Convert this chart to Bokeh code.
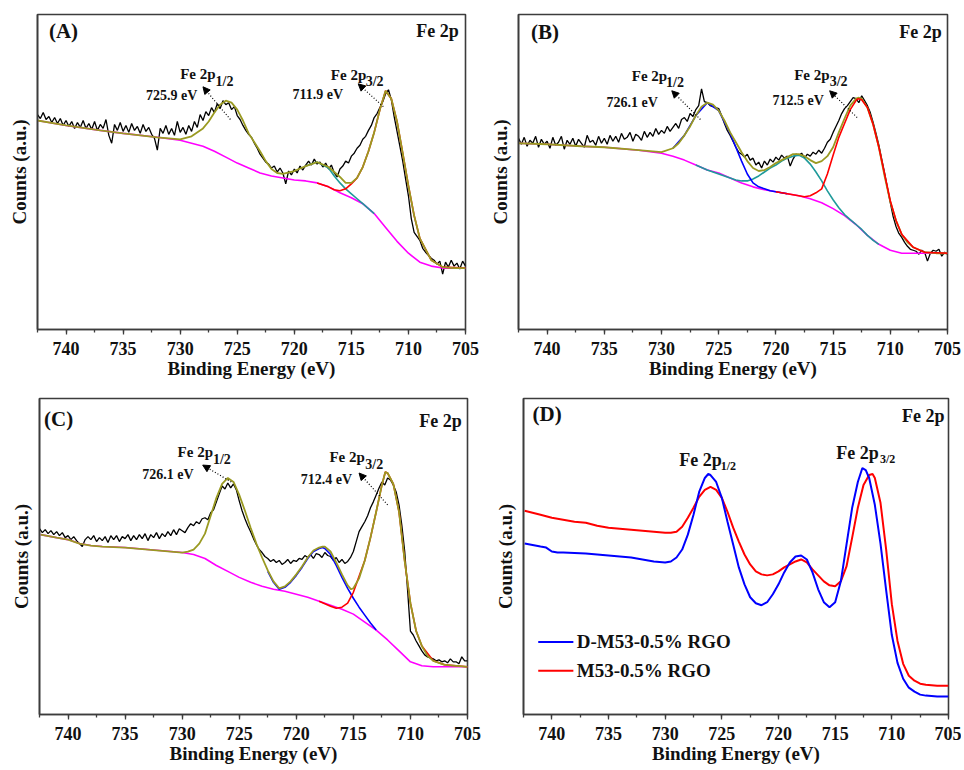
from bokeh.plotting import figure
from bokeh.models import Range1d, SingleIntervalTicker, FixedTicker, Label, Arrow, NormalHead
from bokeh.layouts import column, row
from bokeh.embed import file_html
from bokeh.resources import INLINE

SERIF = "'Liberation Serif', 'Times New Roman', Times, serif"
E_START = 743.0   # first energy of the measured spectra (eV)
E_STEP = 0.25     # spectrum sampling step (eV)

# ---------------- measured spectra (counts, a.u.), one row per eV: E, E-0.25, E-0.5, E-0.75 -------------
A_counts = [
    214, 218, 217, 213,  219, 212, 215, 209,  214, 208, 213, 206,  211, 205, 210, 203,
    209, 204, 211, 203,  208, 202, 210, 201,  207, 203, 212, 196,  188, 207, 201, 209,
    200, 206, 199, 208,  201, 205, 198, 207,  200, 204, 197, 193,  181, 203, 198, 206,
    197, 203, 196, 210,  199, 204, 197, 206,  200, 210, 204, 217,  211, 220, 216, 224,
    219, 228, 223, 231,  227, 229, 222, 225,  216, 212, 206, 201,  197, 194, 188, 183,
    177, 173, 169, 167,  163, 165, 159, 163,  158, 147, 160, 156,  162, 158, 165, 161,
    166, 170, 166, 172,  167, 169, 164, 168,  162, 166, 158, 154,  162, 165, 170, 168,
    175, 178, 183, 186,  192, 195, 201, 206,  214, 218, 224, 230,  238, 242, 232, 215,
    200, 185, 170, 152,  135, 112, 98, 94,    90, 82, 78, 75,      72, 70, 66, 69,
    56, 68, 63, 70,      64, 67, 61, 69,      64]
B_counts = [
    190, 186, 193, 187,  194, 185, 191, 188,  195, 184, 192, 187,  190, 183, 194, 186,
    189, 195, 182, 191,  187, 193, 185, 192,  188, 184, 196, 189,  191, 186, 195, 188,
    193, 187, 196, 190,  195, 189, 198, 192,  194, 199, 190, 197,  195, 191, 200, 194,
    199, 195, 203, 197,  201, 198, 205, 200,  204, 208, 203, 212,  214, 210, 218, 215,
    222, 226, 243, 230,  229, 226, 225, 224,  223, 216, 208, 201,  196, 190, 184, 179,
    177, 174, 177, 171,  173, 166, 169, 163,  170, 166, 172, 169,  174, 171, 176, 173,
    175, 165, 172, 177,  176, 178, 173, 177,  175, 179, 177, 181,  178, 183, 189, 192,
    199, 205, 211, 218,  223, 226, 230, 234,  233, 229, 236, 231,  226, 219, 209, 198,
    186, 172, 158, 143,  128, 114, 104, 97,   93, 88, 84, 81,      80, 79, 76, 80,
    78, 69, 77, 80,      79, 81, 74, 78,      76]
C_counts = [
    188, 185, 187, 183,  186, 182, 185, 181,  184, 180, 183, 178,  180, 176, 179, 175,
    172, 169, 176, 179,  176, 180, 174, 178,  175, 179, 173, 180,  176, 180, 174, 179,
    177, 181, 175, 180,  176, 181, 177, 182,  175, 181, 178, 183,  177, 182, 179, 184,
    180, 186, 181, 187,  185, 183, 188, 192,  190, 194, 192, 197,  198, 196, 203, 206,
    214, 222, 230, 227,  233, 228, 232, 226,  215, 205, 197, 190,  184, 177, 171, 166,
    163, 159, 157, 154,  156, 153, 155, 151,  153, 156, 152, 155,  154, 157, 156, 160,
    158, 161, 157, 162,  161, 158, 163, 160,  159, 155, 158, 153,  156, 152, 154, 158,
    164, 174, 184, 189,  194, 200, 208, 214,  221, 228, 234, 231,  238, 236, 231, 224,
    211, 190, 164, 125,  84, 80, 74, 69,      64, 60, 58, 57,      56, 54, 55, 53,
    54, 52, 56, 53,      53, 51, 58, 54,      54]

# ---------------- fitted curves (eV, counts) ----------------
A_envelope = [(742.5, 211), (740, 206), (737, 201), (735, 198), (732, 194), (730, 192), (729, 195), (728, 203),
              (727.5, 210), (727, 219), (726.5, 227), (726, 231), (725.5, 229), (725, 222), (724.5, 211), (724, 198),
              (723.5, 189), (723, 180), (722.5, 170), (722, 162), (721.5, 158), (721, 157), (720, 160), (719, 165),
              (718, 169), (717, 164), (716, 154), (715.5, 148), (715, 148), (714.5, 153), (714, 164), (713.5, 180),
              (713, 199), (712.5, 222), (712, 241), (711.5, 233), (711, 210), (710.5, 178), (710, 145), (709.5, 115),
              (709, 92), (708, 70), (707, 63), (706, 62), (705, 62)]
A_background = [(742.5, 211), (740, 206), (737, 201), (735, 198), (732, 194), (730, 191), (729, 188), (728, 185),
                (727, 180), (726, 174), (725, 168), (724, 163), (723, 158), (722, 155), (721, 153), (720, 151),
                (719, 150), (718, 148), (717, 144), (716, 138), (715, 133), (714, 127), (713, 117), (712, 103),
                (711, 89), (710, 77), (709, 68), (708, 64), (707, 62), (706, 62), (705, 62)]
A_p32 = [(718, 148), (717, 144), (716.5, 141), (716, 140), (715.5, 142), (715, 147), (714.5, 153), (714, 164),
         (713.5, 180), (713, 199), (712.5, 222), (712, 241), (711.5, 233), (711, 210), (710.5, 178), (710, 145),
         (709.5, 115), (709, 92), (708, 70), (707, 63), (705, 62)]
A_sat = [(719, 165), (718, 169), (717, 163), (716.5, 155), (716, 148), (715.5, 142), (715, 137), (714.5, 132),
         (714, 127), (713.5, 122), (713, 117)]

B_envelope = [(742.5, 188), (740, 187), (737, 185), (735, 184), (732, 181), (730, 179), (729, 183), (728.5, 188),
              (728, 196), (727.5, 205), (727, 216), (726.5, 225), (726, 229), (725.5, 227), (725, 221), (724.5, 211),
              (724, 199), (723.5, 189), (723, 179), (722.5, 170), (722, 163), (721.5, 160), (721, 161), (720.5, 164),
              (720, 168), (719, 174), (718.5, 177), (718, 177), (717.5, 175), (717, 171), (716.5, 168), (716, 170),
              (715.5, 175), (715, 184), (714.5, 199), (714, 213), (713.5, 226), (713, 233), (712.8, 234),
              (712.5, 233), (712, 224), (711.5, 207), (711, 184), (710.5, 155), (710, 129), (709.5, 110), (709, 96),
              (708.5, 88), (708, 83), (707, 78), (706, 77), (705, 77)]
B_background = [(742.5, 188), (740, 187), (737, 185), (735, 184), (732, 181), (730, 178), (729, 175), (728, 171),
                (727, 166), (726, 161), (725, 158), (724, 153), (723, 148), (722, 144), (721, 141), (720, 139),
                (719, 137), (718, 135), (717, 132), (716, 128), (715, 122), (714, 115), (713, 106), (712, 95),
                (711, 86), (710, 80), (709, 77), (708, 77), (705, 77)]
B_p12 = [(729, 183), (728, 196), (727, 216), (726, 229), (725, 221), (724, 198), (723.5, 184), (723, 170),
         (722.5, 157), (722, 148), (721.5, 144), (721, 142), (720.5, 140), (720, 139), (719, 137)]
B_sat = [(727, 166), (726, 161), (725, 157), (724, 153), (723.5, 151), (723, 150), (722.5, 150), (722, 152),
         (721.5, 155), (721, 159), (720.5, 163), (720, 166), (719.5, 170), (719, 173), (718.5, 175), (718, 176),
         (717.5, 173), (717, 167), (716.5, 159), (716, 150), (715.5, 140), (715, 131), (714.5, 123), (714, 116),
         (713.5, 111), (713, 106), (712.5, 101), (712, 95), (711.5, 90), (711, 86)]
B_p32 = [(720, 139), (719, 137), (718, 135), (717.5, 134), (717, 135), (716.5, 138), (716, 142), (715.5, 157),
         (715, 176), (714.5, 194), (714, 208), (713.5, 222), (713, 231), (712.8, 233), (712.5, 232), (712, 224),
         (711.5, 207), (711, 184), (710.5, 157), (710, 130), (709.5, 110), (709, 96), (708, 83), (707, 78), (705, 77)]

C_envelope = [(742.4, 181), (741, 178), (740, 176), (739, 172), (738, 170), (737, 169), (735, 168), (733, 166),
              (731, 164), (730, 163), (729.5, 164), (729, 166), (728.5, 172), (728, 182), (727.5, 200), (727, 218),
              (726.5, 232), (726, 238), (725.5, 234), (725, 221), (724.5, 205), (724, 188), (723.5, 172), (723, 158),
              (722.5, 145), (722, 134), (721.5, 127), (721, 129), (720.5, 134), (720, 141), (719.5, 149), (719, 158),
              (718.5, 165), (718, 168), (717.7, 169), (717.5, 169), (717, 164), (716.5, 153), (716, 141),
              (715.5, 130), (715.2, 126), (715, 127), (714.5, 137), (714, 155), (713.5, 178), (713, 204),
              (712.5, 231), (712.2, 244), (712, 243), (711.5, 232), (711, 204), (710.5, 154), (710, 112),
              (709.5, 84), (709, 69), (708.5, 59), (708, 54), (707, 50), (706, 49), (705, 48)]
C_background = [(742.4, 181), (741, 178), (740, 176), (739, 172), (738, 170), (737, 169), (735, 168), (733, 166),
                (731, 164), (730, 163), (729, 161), (728, 157), (727, 150), (726, 144), (725, 138), (724, 133),
                (723, 129), (722, 126), (721, 124), (720, 121), (719, 118), (718, 114), (717, 110), (716, 106),
                (715, 101), (714, 93), (713, 85), (712, 75), (711, 64), (710, 53), (709, 49), (708, 48), (705, 48)]
C_p12 = [(722.5, 144), (722, 133), (721.5, 126), (721, 128), (720.5, 133), (720, 140), (719.5, 148), (719, 157),
         (718.5, 164), (718, 167), (717.7, 168), (717.5, 167), (717, 161), (716.5, 150), (716, 138), (715.5, 127),
         (715, 117), (714.5, 108), (714, 100), (713.5, 92), (713, 85)]
C_p32 = [(718, 114), (717, 109), (716.5, 107), (716, 108), (715.5, 112), (715, 123), (714.5, 139), (714, 155),
         (713.5, 178), (713, 204), (712.5, 231), (712.2, 244), (712, 243), (711.5, 232), (711, 204), (710.5, 154),
         (710, 112), (709.5, 84), (709, 69), (708, 54), (707, 50), (705, 48)]

# ---------------- panel D: fitted spectra of two samples ----------------
D_names = ["D-M53-0.5% RGO", "M53-0.5% RGO"]
D_dm53 = [(742.4, 172), (741, 169), (740.5, 168), (740, 164), (739.5, 163), (739, 163), (737, 162), (735, 160),
          (733, 158), (731, 154), (730, 153), (729.5, 154), (729, 158), (728.5, 166), (728, 181), (727.5, 201),
          (727, 224), (726.5, 238), (726.2, 242), (726, 241), (725.5, 234), (725, 218), (724.5, 194), (724, 171),
          (723.5, 148), (723, 131), (722.5, 118), (722, 112), (721.5, 110), (721, 113), (720.5, 121), (720, 131),
          (719.5, 143), (719, 153), (718.5, 159), (718, 160), (717.5, 156), (717, 143), (716.5, 126), (716, 113),
          (715.5, 108), (715, 113), (714.5, 134), (714, 171), (713.5, 208), (713, 234), (712.6, 248), (712.3, 246),
          (712, 238), (711.5, 211), (711, 172), (710.5, 125), (710, 80), (709.5, 52), (709, 36), (708.5, 27),
          (708, 23), (707.5, 20), (707, 19), (706, 18), (705, 18)]
D_m53 = [(742.4, 205), (741, 201), (740, 198), (739, 196), (738, 194), (737, 193), (736, 190), (735, 188),
         (734, 187), (732, 185), (730, 183), (729.5, 183), (729, 184), (728.5, 189), (728, 198), (727.5, 208),
         (727, 219), (726.5, 226), (726, 229), (725.5, 226), (725, 218), (724.5, 204), (724, 188), (723.5, 174),
         (723, 161), (722.5, 151), (722, 144), (721.5, 141), (721, 140), (720.5, 141), (720, 144), (719.5, 148),
         (719, 151), (718.5, 154), (718, 156), (717.5, 153), (717, 146), (716.5, 140), (716, 134), (715.5, 130),
         (715, 129), (714.5, 134), (714, 149), (713.5, 178), (713, 208), (712.5, 231), (712, 241), (711.7, 242),
         (711.5, 238), (711, 213), (710.5, 166), (710, 111), (709.5, 74), (709, 51), (708.5, 39), (708, 34),
         (707.5, 31), (707, 30), (706, 29), (705, 29)]

OLIVE = "#9a9a22"
TEAL = "#1f9a9a"
MAGENTA = "#ff00ff"
RED = "#ff0000"
BLUE = "#0000ff"
FRAME = "#3c3c3c"
INK = "#111111"


def xs(pts):
    return [p[0] for p in pts]


def ys(pts):
    return [p[1] for p in pts]


def energies(n):
    return [E_START - E_STEP * i for i in range(n)]


def panel(w, h, bl, br, bt, bb):
    p = figure(width=w, height=h,
               x_range=Range1d(742.5, 705), y_range=Range1d(0, 318),
               output_backend="svg", toolbar_location=None,
               min_border_left=bl, min_border_right=br, min_border_top=bt, min_border_bottom=bb)
    p.xgrid.visible = False
    p.ygrid.visible = False
    p.outline_line_color = FRAME
    p.outline_line_width = 1.6
    xa = p.xaxis[0]
    xa.ticker = SingleIntervalTicker(interval=5, num_minor_ticks=2)
    xa.axis_label = "Binding Energy (eV)"
    xa.axis_label_text_font = SERIF
    xa.axis_label_text_font_style = "bold"
    xa.axis_label_text_font_size = "19px"
    xa.axis_label_text_color = INK
    xa.axis_label_standoff = 0
    xa.major_label_text_font = SERIF
    xa.major_label_text_font_style = "bold"
    xa.major_label_text_font_size = "18px"
    xa.major_label_text_color = INK
    xa.major_label_standoff = 7
    xa.major_tick_in = 0
    xa.major_tick_out = 5
    xa.minor_tick_in = 0
    xa.minor_tick_out = 3
    xa.axis_line_color = FRAME
    xa.axis_line_width = 1.6
    xa.major_tick_line_color = FRAME
    xa.major_tick_line_width = 1.3
    xa.minor_tick_line_color = FRAME
    xa.minor_tick_line_width = 1.3
    ya = p.yaxis[0]
    ya.ticker = FixedTicker(ticks=[])
    ya.axis_label = "Counts (a.u.)"
    ya.axis_label_text_font = SERIF
    ya.axis_label_text_font_style = "bold"
    ya.axis_label_text_font_size = "19px"
    ya.axis_label_text_color = INK
    ya.axis_label_standoff = 8
    ya.major_label_standoff = 0
    ya.major_tick_out = 0
    ya.major_tick_in = 0
    ya.minor_tick_out = 0
    ya.minor_tick_in = 0
    ya.axis_line_color = FRAME
    ya.axis_line_width = 1.6
    return p


def label(p, x, y, text, size, align="left", baseline="alphabetic"):
    p.add_layout(Label(x=x, y=y, text=text, text_font=SERIF, text_font_style="bold",
                       text_font_size=size, text_color=INK, text_align=align, text_baseline=baseline))


def pointer(p, x0, y0, x1, y1):
    p.add_layout(Arrow(end=NormalHead(size=7, line_color="black", fill_color="black", line_width=1),
                       x_start=x0, y_start=y0, x_end=x1, y_end=y1,
                       line_color="black", line_width=1.2, line_dash="1 2"))


def corner(p, tag, tx, ty, fx, fy):
    label(p, tx, ty, tag, "21px", baseline="top")
    label(p, fx, fy, "Fe 2p", "18px", align="right", baseline="top")


# ---------- panel A ----------
pA = panel(483, 382, 37, 18, 14, 50)
pA.line(energies(len(A_counts)), A_counts, line_color="black", line_width=1.3)
pA.line(xs(A_background), ys(A_background), line_color=MAGENTA, line_width=1.6)
pA.line(xs(A_sat), ys(A_sat), line_color=TEAL, line_width=1.6)
pA.line(xs(A_p32), ys(A_p32), line_color=RED, line_width=1.6)
pA.line(xs(A_envelope), ys(A_envelope), line_color=OLIVE, line_width=1.8)
corner(pA, "(A)", 741.5, 313, 705.6, 311)
label(pA, 730.0, 258, "Fe 2p", "15px")
label(pA, 726.9, 250, "1/2", "14px")
label(pA, 733.0, 236, "725.9 eV", "14px")
pointer(pA, 725.6, 212, 728.0, 245)
label(pA, 716.8, 257, "Fe 2p", "15px")
label(pA, 713.75, 250, "3/2", "14px")
label(pA, 720.15, 237, "711.9 eV", "14px")
pointer(pA, 712.2, 225, 714.4, 248)

# ---------- panel B ----------
pB = panel(478, 382, 35, 14, 11, 53)
pB.line(energies(len(B_counts)), B_counts, line_color="black", line_width=1.3)
pB.line(xs(B_background), ys(B_background), line_color=MAGENTA, line_width=1.6)
pB.line(xs(B_sat), ys(B_sat), line_color=TEAL, line_width=1.6)
pB.line(xs(B_p12), ys(B_p12), line_color=BLUE, line_width=1.6)
pB.line(xs(B_envelope), ys(B_envelope), line_color=OLIVE, line_width=1.8)
pB.line(xs(B_p32), ys(B_p32), line_color=RED, line_width=1.6)
corner(pB, "(B)", 741.4, 312, 705.5, 310)
label(pB, 732.6, 256, "Fe 2p", "15px")
label(pB, 729.6, 249, "1/2", "14px")
label(pB, 734.8, 229, "726.1 eV", "14px")
pointer(pB, 726.6, 212, 729.1, 241)
label(pB, 718.4, 257, "Fe 2p", "15px")
label(pB, 715.3, 250, "3/2", "14px")
label(pB, 720.3, 231, "712.5 eV", "14px")
pointer(pB, 712.9, 214, 715.3, 241)

# ---------- panel C ----------
pC = panel(483, 384, 39, 16, 16, 50)
pC.line(energies(len(C_counts)), C_counts, line_color="black", line_width=1.3)
pC.line(xs(C_background), ys(C_background), line_color=MAGENTA, line_width=1.6)
pC.line(xs(C_p12), ys(C_p12), line_color=BLUE, line_width=1.6)
pC.line(xs(C_p32), ys(C_p32), line_color=RED, line_width=1.6)
pC.line(xs(C_envelope), ys(C_envelope), line_color=OLIVE, line_width=1.8)
corner(pC, "(C)", 742.1, 309, 705.5, 305)
label(pC, 730.4, 264, "Fe 2p", "15px")
label(pC, 727.3, 257, "1/2", "14px")
label(pC, 733.5, 242, "726.1 eV", "14px")
pointer(pC, 725.7, 234, 728.2, 251)
label(pC, 717.1, 259, "Fe 2p", "15px")
label(pC, 713.95, 252, "3/2", "14px")
label(pC, 719.6, 236, "712.4 eV", "14px")
pointer(pC, 712.0, 211, 714.5, 243)

# ---------- panel D ----------
pD = panel(478, 384, 40, 13, 16, 50)
pD.line(xs(D_m53), ys(D_m53), line_color=RED, line_width=2)
pD.line(xs(D_dm53), ys(D_dm53), line_color=BLUE, line_width=2)
corner(pD, "(D)", 741.7, 314, 705.35, 310)
label(pD, 728.75, 256, "Fe 2p", "18px")
label(pD, 725.1, 250, "1/2", "12px")
label(pD, 714.9, 263, "Fe 2p", "18px")
label(pD, 711.05, 257, "3/2", "12px")
pD.segment(x0=[741.2, 741.2], y0=[73, 44], x1=[738.1, 738.1], y1=[73, 44],
           line_color=[BLUE, RED], line_width=2)
label(pD, 737.8, 73, D_names[0], "19px", baseline="middle")
label(pD, 737.8, 44, D_names[1], "19px", baseline="middle")

layout = column(row(pA, pB), row(pC, pD))
open("out.html", "w").write(file_html(layout, INLINE))
